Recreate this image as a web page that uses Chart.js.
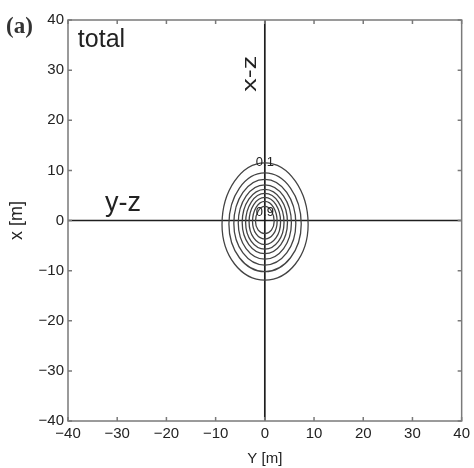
<!DOCTYPE html>
<html>
<head>
<meta charset="utf-8">
<script src="https://cdn.jsdelivr.net/npm/chart.js@4.4.1/dist/chart.umd.min.js"></script>
<style>
  html, body { margin: 0; padding: 0; background: #fff; }
  canvas { display: block; }
</style>
</head>
<body>
<canvas id="canvas" width="474" height="468"></canvas>
<script>
// axis ticks (both axes run -40..40 m)
var tickValues = [-40, -30, -20, -10, 0, 10, 20, 30, 40];

// contour levels 0.1 .. 0.9, extents (m)
var contourLevels = ['0.1', '0.2', '0.3', '0.4', '0.5', '0.6', '0.7', '0.8', '0.9'];
var contourTop    = [11.5, 9.5, 8.2, 7.1, 6.2, 5.4, 4.6, 3.8, 2.8];
var contourBottom = [-11.9, -10.2, -8.9, -7.7, -6.6, -5.7, -4.8, -3.7, -2.6];
var contourLeft   = [-8.7, -7.3, -6.3, -5.4, -4.6, -3.9, -3.2, -2.5, -1.9];
var contourRight  = [8.8, 7.4, 6.3, 5.4, 4.6, 3.9, 3.2, 2.5, 1.9];
var contourSideY  = [-0.8, -0.7, -0.6, -0.5, -0.4, -0.4, -0.3, -0.2, -0.2];

// which contours carry a label, and where the label sits (m)
var labelIndex = [0, 8];
var labelY = [11.6, 1.7];

var FONT = "'Liberation Sans', Arial, Helvetica, sans-serif";
var TEXT = '#222';

function fmt(v) {
    return v < 0 ? '\u2212' + Math.abs(v) : String(v);
}

// closed loop: L T R B L T R, first and last segment hidden so every
// visible knot gets a smooth control point
function contourPoints(i) {
    var L = function() { return {x: contourLeft[i], y: contourSideY[i]}; };
    var T = function() { return {x: 0, y: contourTop[i]}; };
    var R = function() { return {x: contourRight[i], y: contourSideY[i]}; };
    var B = function() { return {x: 0, y: contourBottom[i]}; };
    return [L(), T(), R(), B(), L(), T(), R()];
}

var datasets = [];
contourLevels.forEach(function(lv, i) {
    datasets.push({
        label: lv,
        data: contourPoints(i),
        showLine: true,
        borderColor: '#444',
        borderWidth: 1.3,
        tension: 0.55,
        pointRadius: 0,
        segment: {
            borderColor: function(c) {
                return (c.p0DataIndex === 0 || c.p0DataIndex === 5) ? 'rgba(0,0,0,0)' : undefined;
            }
        }
    });
});
// the x-z and y-z section lines
datasets.push({label: 'x-z', data: [{x: 0, y: -40}, {x: 0, y: 40}], showLine: true,
    borderColor: '#1e1e1e', borderWidth: 1.7, pointRadius: 0});
datasets.push({label: 'y-z', data: [{x: -40, y: 0}, {x: 40, y: 0}], showLine: true,
    borderColor: '#1e1e1e', borderWidth: 1.7, pointRadius: 0});

var framePlugin = {
    id: 'frame',
    afterDatasetsDraw: function(chart) {
        var ctx = chart.ctx, a = chart.chartArea;
        var xs = chart.scales.x, ys = chart.scales.y;
        ctx.save();
        // box + inward ticks on all four sides
        ctx.strokeStyle = '#7a7a7a';
        ctx.lineWidth = 1.5;
        ctx.strokeRect(a.left, a.top, a.right - a.left, a.bottom - a.top);
        ctx.beginPath();
        tickValues.forEach(function(v) {
            var px = xs.getPixelForValue(v), py = ys.getPixelForValue(v);
            ctx.moveTo(px, a.bottom); ctx.lineTo(px, a.bottom - 4);
            ctx.moveTo(px, a.top); ctx.lineTo(px, a.top + 4);
            ctx.moveTo(a.left, py); ctx.lineTo(a.left + 4, py);
            ctx.moveTo(a.right, py); ctx.lineTo(a.right - 4, py);
        });
        ctx.stroke();

        ctx.fillStyle = TEXT;
        // contour labels
        ctx.font = '13px ' + FONT;
        ctx.textAlign = 'center';
        ctx.textBaseline = 'middle';
        labelIndex.forEach(function(li, k) {
            ctx.fillText(contourLevels[li], xs.getPixelForValue(0), ys.getPixelForValue(labelY[k]));
        });

        // panel annotations
        ctx.textBaseline = 'alphabetic';
        ctx.textAlign = 'left';
        ctx.font = '25px ' + FONT;
        ctx.fillText('total', xs.getPixelForValue(-38), ys.getPixelForValue(34.6));
        ctx.font = '27px ' + FONT;
        ctx.fillText('y-z', xs.getPixelForValue(-32.5), ys.getPixelForValue(1.9));

        ctx.save();
        ctx.translate(xs.getPixelForValue(-1.7), ys.getPixelForValue(29.3));
        ctx.rotate(-Math.PI / 2);
        ctx.scale(1.35, 1);
        ctx.font = '20px ' + FONT;
        ctx.textAlign = 'center';
        ctx.fillText('x-z', 0, 0);
        ctx.restore();

        ctx.font = "bold 23px 'Liberation Serif', 'Times New Roman', serif";
        ctx.textAlign = 'left';
        ctx.fillStyle = '#333';
        ctx.fillText('(a)', 6, 33);
        ctx.restore();
    }
};

function axisOpts(title, fit, titlePad, titleSize) {
    return {
        type: 'linear',
        min: -40,
        max: 40,
        afterFit: fit,
        afterBuildTicks: function(s) {
            s.ticks = tickValues.map(function(v) { return {value: v}; });
        },
        grid: {display: false, drawTicks: false},
        border: {display: false},
        ticks: {autoSkip: false, maxRotation: 0, padding: 4, color: TEXT,
                font: {size: 15, family: FONT}, callback: fmt},
        title: {display: true, text: title, color: TEXT,
                font: {size: titleSize, family: FONT}, padding: titlePad}
    };
}

var config = {
    type: 'scatter',
    data: {datasets: datasets},
    options: {
        responsive: false,
        animation: false,
        layout: {padding: {left: 0, right: 11, top: 20, bottom: 0}},
        plugins: {legend: {display: false}, tooltip: {enabled: false}},
        scales: {
            x: axisOpts('Y [m]', function(s) { s.height = 47; }, {top: 0, bottom: 0}, 15),
            y: axisOpts('x [m]', function(s) { s.width = 68; }, {top: 6, bottom: 0}, 18)
        }
    },
    plugins: [framePlugin]
};

window.onload = function() {
    var ctx = document.getElementById('canvas').getContext('2d');
    window.myChart = new Chart(ctx, config);
};
</script>
</body>
</html>
